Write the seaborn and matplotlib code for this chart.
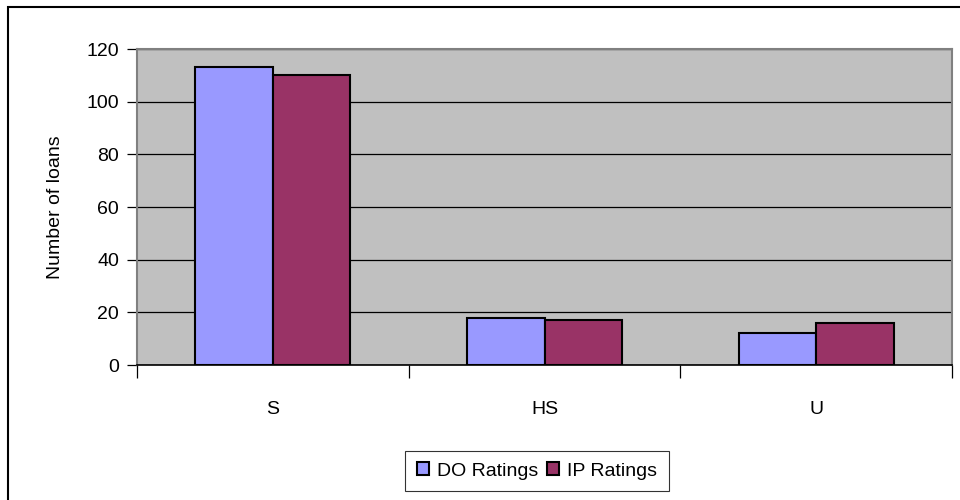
import pandas as pd
import seaborn as sns
import matplotlib.pyplot as plt
from matplotlib.patches import Rectangle

# values
categories = ['S', 'HS', 'U']
do_ratings = [113, 18, 12]
ip_ratings = [110, 17, 16]
series_names = ['DO Ratings', 'IP Ratings']
y_ticks = [0, 20, 40, 60, 80, 100, 120]

df = pd.DataFrame({
    'category': categories * 2,
    'series': [series_names[0]] * 3 + [series_names[1]] * 3,
    'loans': do_ratings + ip_ratings,
})

sns.set_style('white')
plt.rcParams['font.family'] = ['Liberation Sans', 'DejaVu Sans']
plt.rcParams['text.color'] = 'black'
plt.rcParams['axes.labelcolor'] = 'black'
plt.rcParams['xtick.color'] = 'black'
plt.rcParams['ytick.color'] = 'black'

fs = 14

fig = plt.figure(figsize=(9.6, 5), dpi=100)
ax = fig.add_axes([137 / 960, 1 - 365 / 500, (952 - 137) / 960, (365 - 49) / 500])

sns.barplot(data=df, x='category', y='loans', hue='series', order=categories,
            hue_order=series_names, palette=['#9999FF', '#993366'],
            width=0.57, gap=0, edgecolor='black', linewidth=1.5,
            saturation=1, ax=ax, errorbar=None, zorder=3)

ax.set_facecolor('#C0C0C0')
ax.set_ylim(0, 120)
ax.set_xlim(-0.5, 2.5)
ax.set_yticks(y_ticks)
ax.yaxis.grid(True, color='black', linewidth=0.9)
ax.set_axisbelow(True)

for side in ['top', 'right', 'left']:
    ax.spines[side].set_color('#808080')
    ax.spines[side].set_linewidth(1.5)
ax.spines['bottom'].set_color('black')
ax.spines['bottom'].set_linewidth(1.2)
ax.spines['bottom'].set_zorder(4)

ax.set_xticks([0, 1, 2])
ax.set_xticklabels(categories)
ax.set_xticks([-0.5, 0.5, 1.5, 2.5], minor=True)
ax.tick_params(axis='x', which='major', bottom=False, length=0, pad=26, labelsize=fs)
ax.tick_params(axis='x', which='minor', bottom=True, length=9, width=0.9,
               color='black', direction='out')
ax.tick_params(axis='y', length=7, width=0.9, color='black', direction='out',
               left=True, labelsize=fs, pad=6)

ax.set_xlabel('')
ax.set_ylabel('Number of loans', fontsize=fs, labelpad=16)

ax.legend(loc='center', bbox_to_anchor=(537 / 960, 1 - 471 / 500),
          bbox_transform=fig.transFigure, ncol=2, frameon=True,
          fancybox=False, edgecolor='black', fontsize=fs,
          handlelength=0.6, handleheight=0.6, handletextpad=0.4,
          columnspacing=0.5, borderpad=0.6).get_frame().set_linewidth(0.8)

# outer chart border
fig.patches.append(Rectangle((8 / 960, -0.05), 1.2, 1 - 7 / 500 + 0.05,
                             transform=fig.transFigure, fill=False,
                             edgecolor='black', linewidth=1.5))

fig.savefig('out.png', dpi=100)
